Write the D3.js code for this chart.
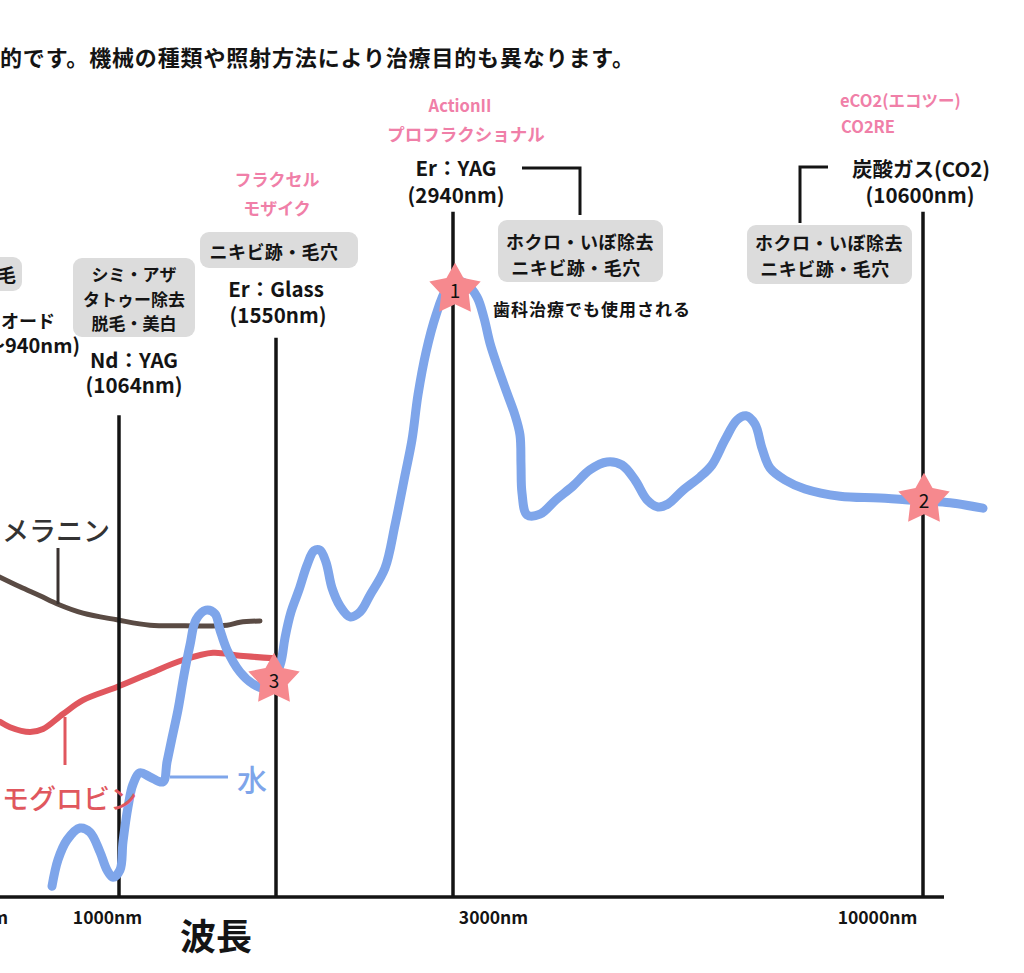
<!DOCTYPE html>
<html><head><meta charset="utf-8">
<script src="https://cdn.jsdelivr.net/npm/d3@7"></script>
<style>
body{margin:0;background:#fff}
svg{display:block}
text{font-family:"Noto Sans CJK JP","Noto Sans",sans-serif}
</style>
</head><body>
<svg id="c" width="1024" height="973"></svg>
<script>
// ---------------- data ----------------
const titleText = "的です。機械の種類や照射方法により治療目的も異なります。";
const axisLabel = "波長";
const tickLabels = ["500nm", "1000nm", "3000nm", "10000nm"];
const tickPositions = [-2.2, 10.7, 49.3, 87.7];

const laserNames = ["Nd：YAG", "Er：Glass", "Er：YAG", "炭酸ガス(CO2)"];
const laserWaves = ["(1064nm)", "(1550nm)", "(2940nm)", "(10600nm)"];
const laserPositions = [11.9, 27.6, 45.3, 92.3];
const laserTops = [80.3, 93.2, 114.2, 114.2];
const laserUses = [
  ["シミ・アザ", "タトゥー除去", "脱毛・美白"],
  ["ニキビ跡・毛穴"],
  ["ホクロ・いぼ除去", "ニキビ跡・毛穴"],
  ["ホクロ・いぼ除去", "ニキビ跡・毛穴"]
];
const laserProducts = [[], ["フラクセル", "モザイク"], ["ActionII", "プロフラクショナル"], ["eCO2(エコツー)", "CO2RE"]];
const diodeName = "ダイオード";
const diodeWave = "(800〜940nm)";
const diodeUse = "脱毛";
const noteText = "歯科治療でも使用される";

const curveNames = ["水", "メラニン", "モグロビン"];

const waterPos = [5.2,5.8,6.7,8.0,9.0,10.0,10.7,11.3,12.0,12.3,12.8,13.3,14.0,15.0,16.3,16.7,17.2,17.8,18.4,19.0,19.6,20.6,21.5,22.0,22.7,24.0,25.3,26.4,27.4,28.1,28.5,29.1,29.9,30.7,31.4,32.0,32.6,33.2,34.0,35.0,36.0,37.0,38.5,39.5,40.5,41.2,41.8,42.6,43.6,44.6,45.6,46.6,47.7,48.4,49.0,49.8,50.7,51.5,52.0,52.1,52.2,52.7,54.0,55.6,57.3,59.0,60.7,62.2,63.5,64.7,65.8,66.8,68.3,70.0,71.2,72.5,73.7,74.6,75.5,76.2,77.0,78.5,80.5,84.0,88.0,92.3,95.0,98.3];
const waterAbs = [1.8,6.2,9.5,11.5,10.8,7.5,4.5,3.3,4.5,9.2,15.0,18.8,20.7,20.0,19.2,22.5,26.5,31.2,37.0,42.0,46.2,47.8,47.2,44.5,41.2,37.5,35.5,34.8,36.2,39.2,43.2,47.5,51.2,55.3,57.7,57.8,55.8,51.5,48.5,46.7,47.5,50.3,54.8,62.0,70.3,76.2,83.7,90.8,97.0,101.2,102.7,102.2,100.0,96.5,92.3,88.2,84.0,80.3,77.0,72.0,67.3,63.7,63.8,66.2,68.5,71.2,72.5,72.0,69.5,66.2,65.0,65.5,67.8,70.0,72.0,76.2,79.5,80.2,78.8,74.8,71.5,69.5,68.0,66.8,66.5,66.0,65.7,64.8];

const melaninPos = [0, 2.0, 4.0, 5.8, 8.3, 11.7, 15.0, 18.5, 22.7, 24.0, 26.0];
const melaninAbs = [53.3, 51.7, 50.2, 48.8, 47.3, 46.2, 45.3, 45.2, 45.3, 45.8, 46.0];

const hemoPos = [0, 1.0, 3.0, 4.3, 6.3, 8.3, 11.7, 15.0, 18.3, 21.3, 24.0, 27.5];
const hemoAbs = [29.2, 28.3, 27.5, 28.0, 30.5, 32.8, 35.0, 37.3, 39.5, 40.7, 40.2, 39.8];

const starLabels = ["1", "2", "3"];
const starPos = [45.5, 92.4, 27.4];
const starAbs = [101.2, 66.2, 36.2];

// ---------------- styles ----------------
const C = {
  water: "#7ea5ea", melanin: "#5a4b44", hemo: "#e0575e", pink: "#f07fa8",
  box: "#dcdcdc", star: "#f6898e", ink: "#141414"
};

const svg = d3.select("#c");
const x = d3.scaleLinear().domain([0, 100]).range([0, 1000]);
const y = d3.scaleLinear().domain([0, 100]).range([897, 297]);

// title
svg.append("text").attr("x", 0).attr("y", 66)
  .attr("font-size", 22).attr("font-weight", 700).attr("fill", C.ink)
  .attr("textLength", 634).attr("lengthAdjust", "spacing")
  .text(titleText);

// axis line + ticks
svg.append("line").attr("x1", x(0)).attr("x2", x(94.4)).attr("y1", y(0)).attr("y2", y(0))
  .attr("stroke", C.ink).attr("stroke-width", 3.5);
const axisG = svg.append("g").attr("transform", `translate(0,${y(0)})`)
  .call(d3.axisBottom(x).tickValues(tickPositions).tickFormat((d, i) => tickLabels[i]).tickSize(0).tickPadding(15));
axisG.select(".domain").remove();
axisG.selectAll("text").attr("font-size", 17.5).attr("font-weight", 700).attr("fill", C.ink)
  .attr("font-family", '"Noto Sans CJK JP","Noto Sans",sans-serif');
svg.append("text").attr("x", 216).attr("y", 950).attr("text-anchor", "middle")
  .attr("font-size", 36).attr("font-weight", 700).attr("fill", C.ink).text(axisLabel);

// curves under lasers
const line = d3.line().x(d => x(d[0])).y(d => y(d[1])).curve(d3.curveCatmullRom.alpha(0.5));
svg.append("path").attr("d", line(d3.zip(melaninPos, melaninAbs)))
  .attr("fill", "none").attr("stroke", C.melanin).attr("stroke-width", 5).attr("stroke-linecap", "round");
svg.append("path").attr("d", line(d3.zip(hemoPos, hemoAbs)))
  .attr("fill", "none").attr("stroke", C.hemo).attr("stroke-width", 6).attr("stroke-linecap", "round");

// laser lines
svg.selectAll("line.laser").data(laserPositions).join("line").attr("class", "laser")
  .attr("x1", d => x(d)).attr("x2", d => x(d))
  .attr("y1", y(0)).attr("y2", (d, i) => y(laserTops[i]))
  .attr("stroke", C.ink).attr("stroke-width", 3.5);

// water
svg.append("path").attr("d", line(d3.zip(waterPos, waterAbs)))
  .attr("fill", "none").attr("stroke", C.water).attr("stroke-width", 9)
  .attr("stroke-linecap", "round").attr("stroke-linejoin", "round");

// curve label connectors and labels
const conn = (pts, color, w) => svg.append("path").attr("d", d3.line()(pts))
  .attr("fill", "none").attr("stroke", color).attr("stroke-width", w);
conn([[x(17.0), y(20.0)], [x(22.8), y(20.0)]], C.water, 3);
svg.append("text").attr("x", 237).attr("y", 791).attr("font-size", 30).attr("font-weight", 500)
  .attr("fill", C.water).text(curveNames[0]);
conn([[x(5.8), y(48.8)], [x(5.8), 548]], "#3a3230", 3);
svg.append("text").attr("x", 2).attr("y", 541).attr("font-size", 27).attr("font-weight", 500)
  .attr("fill", "#333").text(curveNames[1]);
conn([[x(6.5), 717], [x(6.5), 765]], C.hemo, 3);
svg.append("text").attr("x", 2).attr("y", 809).attr("font-size", 27)
  .attr("font-weight", 500).attr("fill", C.hemo).text(curveNames[2]);

// stars
const R = 27, r = 14.5;
const starPts = d3.range(10).map(i => [i * Math.PI / 5, i % 2 ? r : R]);
const starPath = d3.lineRadial().curve(d3.curveLinearClosed)(starPts);
const sg = svg.selectAll("g.star").data(starLabels).join("g").attr("class", "star")
  .attr("transform", (d, i) => `translate(${x(starPos[i])},${y(starAbs[i])})`);
sg.append("path").attr("d", starPath).attr("fill", C.star);
sg.append("text").attr("text-anchor", "middle").attr("y", 8).attr("font-size", 19)
  .attr("font-family", "DejaVu Sans, sans-serif").attr("fill", "#111").text(d => d);

// ---------------- annotations ----------------
function txt(t, px, py, o = {}) {
  return svg.append("text").attr("x", px).attr("y", py)
    .attr("text-anchor", o.anchor || "middle")
    .attr("font-size", o.size || 18).attr("font-weight", o.weight || 600)
    .attr("letter-spacing", o.ls || 0)
    .attr("fill", o.color || C.ink).text(t);
}
function box(x0, y0, x1, y1) {
  svg.append("rect").attr("x", x0).attr("y", y0).attr("width", x1 - x0).attr("height", y1 - y0)
    .attr("rx", 9).attr("fill", C.box);
}

const lx = laserPositions.map(p => x(p));
// Diode (cut off at the left edge)
box(-120, 257, 22, 291);
txt(diodeUse, 16, 282, {anchor: "end", size: 18});
txt(diodeName, 55, 328, {anchor: "end", size: 18});
txt(diodeWave, 80, 353, {anchor: "end", size: 20});

// Nd:YAG
box(lx[0] - 46, 258, lx[0] + 76, 337);
laserUses[0].forEach((t, i) => txt(t, lx[0] + 15, 281 + i * 24.5, {size: 17}));
txt(laserNames[0], lx[0] + 15, 368, {size: 20.5});
txt(laserWaves[0], lx[0] + 15, 393, {size: 20.5});

// Er:Glass
box(lx[1] - 76, 232, lx[1] + 82, 268);
txt(laserUses[1][0], lx[1] - 2, 259, {size: 18, ls: 0.4});
txt(laserNames[1], lx[1], 297, {size: 20.5});
txt(laserWaves[1], lx[1] + 2, 323, {size: 20.5});
laserProducts[1].forEach((t, i) => txt(t, lx[1] + 1, 186 + i * 29, {size: 17, weight: 700, color: C.pink}));

// Er:YAG
box(lx[2] + 45, 220, lx[2] + 210, 282);
laserUses[2].forEach((t, i) => txt(t, lx[2] + 127 - i * 4, 249 + i * 25.5, {size: 18, ls: 0.5}));
txt(laserNames[2], lx[2] + 3, 176, {size: 20.5});
txt(laserWaves[2], lx[2] + 3, 203, {size: 20.5});
laserProducts[2].forEach((t, i) => txt(t, lx[2] + 7 + i * 6, 112 + i * 29, {size: i ? 17.5 : 16.5, weight: 700, color: C.pink}));
conn([[lx[2] + 69, 168], [lx[2] + 127, 168], [lx[2] + 127, 215]], C.ink, 3);
txt(noteText, lx[2] + 40, 316, {anchor: "start", size: 17, ls: 1});

// CO2
box(lx[3] - 176, 225, lx[3] - 11, 284);
laserUses[3].forEach((t, i) => txt(t, lx[3] - 94 - i * 4, 250 + i * 26, {size: 18, ls: 0.5}));
txt(laserNames[3], lx[3] - 2, 177, {size: 20.5});
txt(laserWaves[3], lx[3] - 3, 203, {size: 20.5});
laserProducts[3].forEach((t, i) => txt(t, 840 + i, 107 + i * 26, {anchor: "start", size: 16.5, weight: 700, color: C.pink}));
conn([[lx[3] - 95, 167], [lx[3] - 123, 167], [lx[3] - 123, 223]], C.ink, 3);
</script>
</body></html>
